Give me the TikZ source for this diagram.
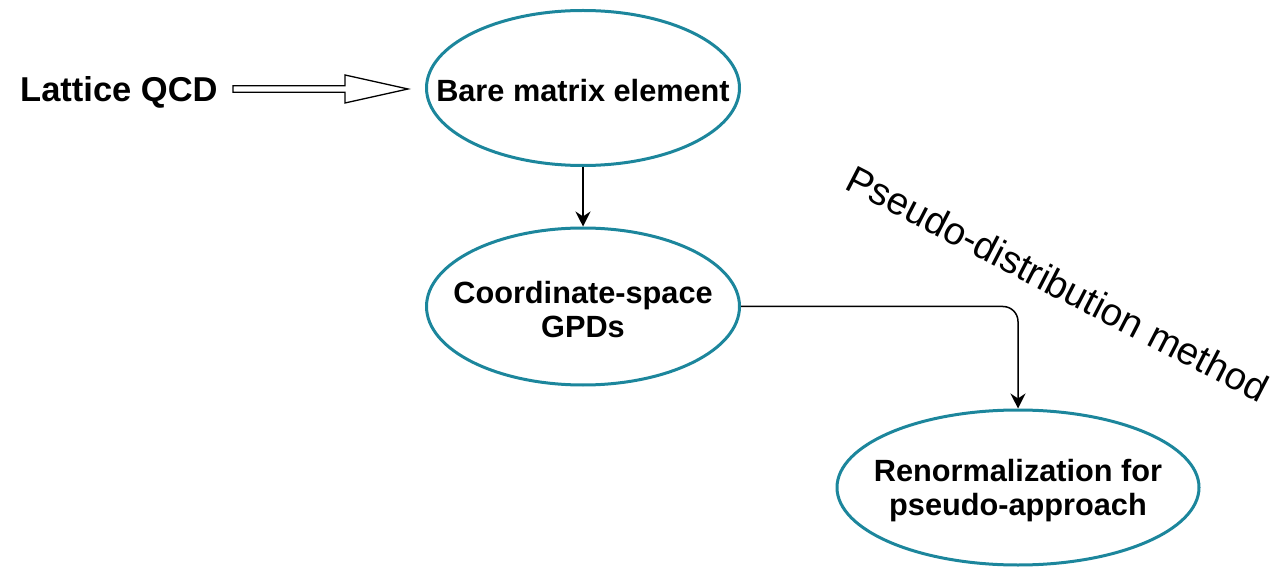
\documentclass[tikz,border=0pt]{standalone}
\usepackage{fontspec}
\setmainfont{Liberation Sans}
\usetikzlibrary{shapes.geometric,arrows.meta}
\definecolor{teal1}{RGB}{28,134,156}
\tikzset{
  ell/.style={ellipse, draw=teal1, line width=3pt, inner sep=0pt},
  etext/.style={align=center, inner sep=0pt, font=\fontsize{30.7}{34}\selectfont\bfseries},
  conn/.style={line width=1.5pt, -{Stealth[length=15pt,width=15pt,inset=5pt]}},
}
\begin{document}
\begin{tikzpicture}[x=1pt,y=-1pt]
\useasboundingbox (0,0) rectangle (1285,569);
\node[ell, minimum width=313pt, minimum height=155pt] (bare) at (583,88) {};
\node[ell, minimum width=313pt, minimum height=157pt] (coord) at (583,306.5) {};
\node[ell, minimum width=362pt, minimum height=155pt] (renorm) at (1018,487.5) {};
\node[etext] (bareT) at (583,91) {Bare matrix element};
\node[etext] (coordT) at (583,310) {Coordinate-space\\GPDs};
\node[etext] (renormT) at (1018,491) {Renormalization for\\pseudo-approach};
\node[anchor=base west, inner sep=0pt, font=\fontsize{34.5}{40}\selectfont\bfseries] (lqcd) at (20,102) {Lattice QCD};
\node[anchor=base west, inner sep=0pt, rotate=-27.3, font=\fontsize{38.5}{44}\selectfont] (pdm) at (843,188) {Pseudo-distribution method};
% hollow block arrow
\coordinate (a0) at (233,89);
\coordinate (tip) at (408,89);
\draw[line width=1.3pt, fill=white, line join=miter]
  (233,85.7) -- (345,85.7) -- (345,75) -- (tip) -- (345,103) -- (345,92.3) -- (233,92.3) -- cycle;
\draw[conn] (bare.south) -- (coord.north);
\draw[conn, rounded corners=15pt] (coord.east) -| (renorm.north);
\end{tikzpicture}
\end{document}
